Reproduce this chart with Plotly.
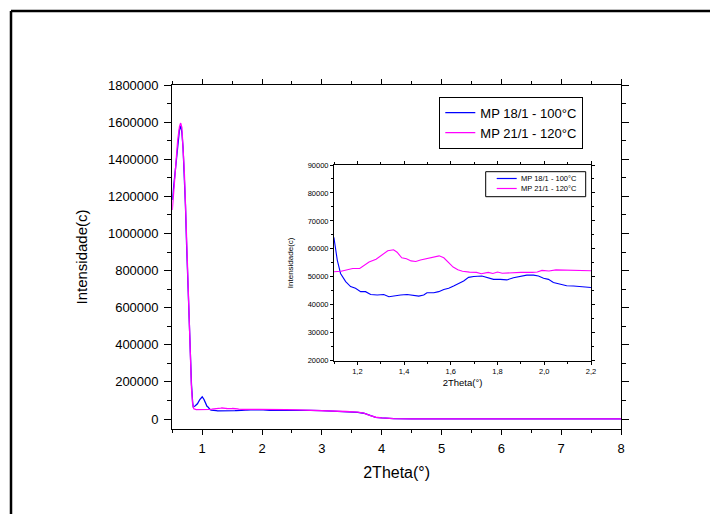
import plotly.graph_objects as go

# ---- data ----
x_blue = [0.50, 0.53, 0.56, 0.59, 0.62, 0.64, 0.66, 0.68, 0.70, 0.72, 0.74, 0.76, 0.78, 0.80,
          0.82, 0.84, 0.85, 0.88, 0.92, 0.96, 1.00, 1.03, 1.06, 1.08,
          1.100, 1.114, 1.128, 1.150, 1.171, 1.192, 1.214, 1.235, 1.257, 1.285, 1.313, 1.335,
          1.363, 1.385, 1.413, 1.434, 1.463, 1.484, 1.498, 1.527, 1.548, 1.570, 1.591, 1.612,
          1.634, 1.655, 1.676, 1.698, 1.733, 1.755, 1.783, 1.812, 1.840, 1.868, 1.897, 1.925,
          1.954, 1.975, 1.997, 2.018, 2.039, 2.068, 2.096, 2.125, 2.153, 2.200,
          2.4, 2.6, 2.8, 3.0, 3.2, 3.4, 3.6, 3.7, 3.8, 3.9, 4.0, 4.1, 4.2, 4.5, 5.0, 6.0, 7.0, 8.0]
y_blue = [1180000, 1280000, 1390000, 1490000, 1560000, 1578000, 1545000, 1460000, 1320000,
          1150000, 930000, 720000, 520000, 330000, 190000, 90000, 66000, 70000, 82000, 105000,
          120000, 105000, 80000, 68000,
          63800, 56000, 51200, 48300, 46500, 45900, 44700, 44700, 43700, 43500, 43700, 42900,
          43300, 43500, 43700, 43500, 43100, 43500, 44300, 44300, 44700, 45500, 45900, 46700,
          47700, 48500, 49800, 50100, 50300, 49700, 49100, 49100, 48900, 49700, 50100, 50600,
          50600, 50300, 49500, 49100, 48000, 47300, 46800, 46700, 46500, 46200,
          47000, 46500, 46000, 45000, 43000, 40000, 36000, 31000, 18000, 9000, 6000, 3000,
          1500, 1000, 800, 600, 500, 400]

x_mag = [0.50, 0.53, 0.56, 0.59, 0.62, 0.64, 0.66, 0.68, 0.70, 0.72, 0.74, 0.76, 0.78, 0.80,
         0.82, 0.84, 0.86, 0.90, 0.95, 1.00, 1.05,
         1.10, 1.13, 1.16, 1.18, 1.21, 1.23, 1.25, 1.28, 1.31, 1.33, 1.355, 1.37, 1.39, 1.41,
         1.43, 1.45, 1.47, 1.49, 1.51, 1.53, 1.55, 1.57, 1.59, 1.61, 1.63, 1.65, 1.68, 1.71,
         1.73, 1.76, 1.78, 1.80, 1.82, 1.85, 1.90, 1.95, 1.97, 1.99, 2.02, 2.05, 2.10, 2.15, 2.20,
         2.4, 2.6, 2.8, 3.0, 3.2, 3.4, 3.6, 3.7, 3.8, 3.9, 4.0, 4.1, 4.2, 4.5, 5.0, 6.0, 7.0, 8.0]
y_mag = [1126000, 1250000, 1380000, 1500000, 1575000, 1595000, 1570000, 1480000, 1340000,
         1160000, 940000, 720000, 510000, 320000, 170000, 80000, 55000, 51000, 50500, 50500, 51000,
         51800, 52000, 52700, 53000, 53000, 54200, 55300, 56300, 58300, 59300, 59700, 58800,
         56800, 56500, 55700, 55500, 56000, 56400, 56700, 57300, 57500, 56800, 55000, 53500,
         52500, 52000, 51700, 51600, 51100, 51600, 51200, 51700, 51300, 51500, 51600, 51600,
         51700, 52300, 52100, 52500, 52400, 52300, 52200,
         50500, 49000, 47500, 46000, 43500, 40500, 37000, 32000, 19000, 9500, 6000, 3000,
         1500, 1000, 800, 600, 500, 400]

name_blue = "MP 18/1 - 100°C"
name_mag = "MP 21/1 - 120°C"

W, H = 710, 514
def px(x):
    return x / W
def py(y):
    return 1 - y / H

BLUE = "#0000FF"
MAG = "#FF00FF"
FONT = "Liberation Sans, Arial, sans-serif"

fig = go.Figure()
fig.add_trace(go.Scatter(x=x_blue, y=y_blue, mode="lines", name=name_blue,
                         line=dict(color=BLUE, width=1.3), xaxis="x", yaxis="y"))
fig.add_trace(go.Scatter(x=x_mag, y=y_mag, mode="lines", name=name_mag,
                         line=dict(color=MAG, width=1.3), xaxis="x", yaxis="y"))
fig.add_trace(go.Scatter(x=x_blue, y=y_blue, mode="lines", name=name_blue, showlegend=False,
                         line=dict(color=BLUE, width=1.1), xaxis="x2", yaxis="y2"))
fig.add_trace(go.Scatter(x=x_mag, y=y_mag, mode="lines", name=name_mag, showlegend=False,
                         line=dict(color=MAG, width=1.1), xaxis="x2", yaxis="y2"))

ax_common = dict(showgrid=False, zeroline=False, showline=True, linecolor="black",
                 ticks="outside", tickcolor="black", mirror="allticks", automargin=False)

# inset legend drawn as shapes + annotations (compact, like the original)
ins_leg = dict(x0=485.7, x1=585.7, y0=171.7, y1=196.7)
shapes = [
    dict(type="line", xref="paper", yref="paper", x0=px(11), x1=1.0, y0=py(11), y1=py(11),
         line=dict(color="black", width=2.5)),
    dict(type="line", xref="paper", yref="paper", x0=px(11), x1=px(11), y0=py(11), y1=0,
         line=dict(color="black", width=2.5)),
    dict(type="rect", xref="paper", yref="paper", x0=px(ins_leg["x0"]), x1=px(ins_leg["x1"]),
         y0=py(ins_leg["y0"]), y1=py(ins_leg["y1"]), line=dict(color="black", width=1),
         fillcolor="white"),
]
annotations = []
for i, (nm, col) in enumerate([(name_blue, BLUE), (name_mag, MAG)]):
    yy = 178.5 + i * 10
    shapes.append(dict(type="line", xref="paper", yref="paper", x0=px(496.7), x1=px(516.7),
                       y0=py(yy), y1=py(yy), line=dict(color=col, width=1.2)))
    annotations.append(dict(x=px(518.5), y=py(yy), xref="paper", yref="paper", text=nm,
                            showarrow=False, xanchor="left", yanchor="middle",
                            font=dict(size=7.5, color="black", family=FONT)))

fig.update_layout(
    width=W, height=H, autosize=False,
    margin=dict(l=0, r=0, t=0, b=0, pad=0, autoexpand=False),
    paper_bgcolor="white", plot_bgcolor="white",
    separators=",.",
    font=dict(family=FONT, color="black"),
    xaxis=dict(**ax_common, domain=[px(172.3), px(621)], anchor="y",
               range=[0.5, 8], dtick=1, tick0=0, ticklen=5, tickwidth=1.2, linewidth=1.3,
               tickfont=dict(size=13), ticklabelstandoff=2,
               minor=dict(dtick=0.5, tick0=0, ticklen=3, ticks="outside", tickcolor="black"),
               title=dict(text="2Theta(°)", font=dict(size=16), standoff=12)),
    yaxis=dict(**ax_common, domain=[py(429), py(85)], anchor="x",
               range=[-53900, 1800000], dtick=200000, tick0=0, tickformat="d",
               ticklen=7, tickwidth=1.2, linewidth=1.3, tickfont=dict(size=13),
               ticklabelstandoff=3,
               minor=dict(dtick=100000, tick0=0, ticklen=4, ticks="outside", tickcolor="black"),
               title=dict(text="Intensidade(c)", font=dict(size=15), standoff=16)),
    xaxis2=dict(**ax_common, domain=[px(334), px(591)], anchor="y2",
                range=[1.1, 2.2], dtick=0.2, tick0=0, tickformat=".1f",
                ticklen=3, tickwidth=0.8, linewidth=1, tickfont=dict(size=7.5),
                minor=dict(dtick=0.1, tick0=0, ticklen=2, ticks="outside", tickcolor="black"),
                title=dict(text="2Theta(°)", font=dict(size=9.5), standoff=4)),
    yaxis2=dict(**ax_common, domain=[py(360.7), py(165)], anchor="x2",
                range=[20000, 90000], dtick=10000, tick0=0, tickformat="d",
                ticklen=3, tickwidth=0.8, linewidth=1, tickfont=dict(size=7.5),
                minor=dict(dtick=5000, tick0=0, ticklen=2, ticks="outside", tickcolor="black"),
                title=dict(text="Intensidade(c)", font=dict(size=8), standoff=12)),
    legend=dict(x=px(439.3), y=py(96.7), xanchor="left", yanchor="top",
                bordercolor="black", borderwidth=1, bgcolor="white",
                font=dict(size=13), tracegroupgap=0),
    showlegend=True,
    shapes=shapes,
    annotations=annotations,
)

fig.write_html("out.html",
               config={"displayModeBar": False, "responsive": False},
               post_script="document.body.style.margin='0';document.body.style.overflow='hidden';")
